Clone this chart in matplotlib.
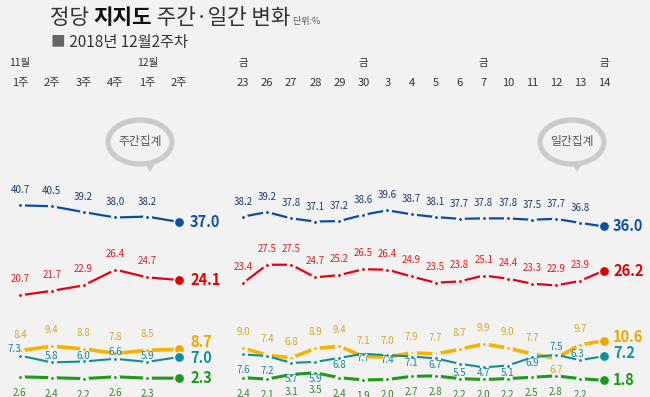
import numpy as np
import matplotlib
matplotlib.use("Agg")
import matplotlib.pyplot as plt
from matplotlib.patches import Ellipse, Polygon

plt.rcParams["font.family"] = ["Noto Sans CJK KR", "DejaVu Sans"]

# ----------------------------------------------------------------------
# --- Data ---
week_labels = ["1주", "2주", "3주", "4주", "1주", "2주"]
week_months = {0: "11월", 4: "12월"}
day_labels = ["23", "26", "27", "28", "29", "30", "3", "4", "5", "6",
              "7", "10", "11", "12", "13", "14"]
friday_idx = [0, 5, 10, 15]

week_minju = [40.7, 40.5, 39.2, 38.0, 38.2, 37.0]
week_hanguk = [20.7, 21.7, 22.9, 26.4, 24.7, 24.1]
week_jeongui = [8.4, 9.4, 8.8, 7.8, 8.5, 8.7]
week_bareun = [7.3, 5.8, 6.0, 6.6, 5.9, 7.0]
week_pyeonghwa = [2.6, 2.4, 2.2, 2.6, 2.3, 2.3]

day_minju = [38.2, 39.2, 37.8, 37.1, 37.2, 38.6, 39.6, 38.7, 38.1, 37.7,
             37.8, 37.8, 37.5, 37.7, 36.8, 36.0]
day_hanguk = [23.4, 27.5, 27.5, 24.7, 25.2, 26.5, 26.4, 24.9, 23.5, 23.8,
              25.1, 24.4, 23.3, 22.9, 23.9, 26.2]
day_jeongui = [9.0, 7.4, 6.8, 8.9, 9.4, 7.1, 7.0, 7.9, 7.7, 8.7,
               9.9, 9.0, 7.7, 6.7, 9.7, 10.6]
day_bareun = [7.6, 7.2, 5.7, 5.9, 6.8, 7.7, 7.4, 7.1, 6.7, 5.5,
              4.7, 5.1, 6.9, 7.5, 6.3, 7.2]
day_pyeonghwa = [2.4, 2.1, 3.1, 3.5, 2.4, 1.9, 2.0, 2.7, 2.8, 2.2,
                 2.0, 2.2, 2.5, 2.8, 2.2, 1.8]

# ----------------------------------------------------------------------
# --- Styles ---
BG = "#f2f2f2"
PT = 0.72  # pixels -> points

# (line colour, label colour, end colour, line width)
STYLES = {
    "minju": ("#0c4da2", "#163b73", "#0d4fa5", 1.6),
    "hanguk": ("#e60012", "#e01e1e", "#e00000", 1.6),
    "jeongui": ("#f6b400", "#d9a52a", "#f0a500", 2.6),
    "bareun": ("#0f8f8f", "#1584a8", "#0c8fa3", 1.5),
    "pyeonghwa": ("#1f9a1a", "#2d8c2d", "#1a9a1a", 2.2),
}
# end label lift in px: (weekly, daily)
END_LIFT = {"minju": (0, 0), "hanguk": (0, 0), "jeongui": (7, 4),
            "bareun": (-1, 3), "pyeonghwa": (0, 0)}

# vertical label offsets in pixels (positive = above the point)
week_dy = {
    "minju": [15] * 6,
    "hanguk": [16] * 6,
    "jeongui": [16] * 6,
    "bareun": [7, 6, 5, 7, 6, 0],
    "pyeonghwa": [-16] * 6,
}
week_dx = {"bareun": [-6, 0, 0, 0, 0, 0]}
day_dy = {
    "minju": [15] * 16,
    "hanguk": [16] * 16,
    "jeongui": [16] * 13 + [-12, 16, 0],
    "bareun": [-16, -15, -16, -17, -7, -4, -5, -6, -7, -9, -6, -7, -6, 8, 6, 0],
    "pyeonghwa": [-16, -16, -17, -17] + [-16] * 12,
}
day_dx = {"bareun": [0] * 14 + [-3, 0]}


def draw_series(ax, values, key, dys, dxs, end_dx, lift):
    line_c, text_c, end_c, lw = STYLES[key]
    x = np.arange(len(values))
    ax.plot(x, values, color=line_c, lw=lw, marker="o", ms=4.3, mew=2.2,
            mfc=line_c, mec=BG, solid_capstyle="butt", zorder=3)
    ax.plot(x[-1], values[-1], marker="o", ms=7.5, mfc=end_c, mec=BG,
            mew=1.2, zorder=4)
    for i, v in enumerate(values[:-1]):
        ax.annotate(f"{v:.1f}", (i, v), xytext=(dxs[i] * PT, dys[i] * PT),
                    textcoords="offset points", ha="center", va="center",
                    fontsize=7, color=text_c, zorder=5)
    ax.annotate(f"{values[-1]:.1f}", (x[-1], values[-1]),
                xytext=(end_dx * PT, lift * PT), textcoords="offset points",
                ha="left", va="center", fontsize=10.5, fontweight="bold",
                color=end_c, zorder=5)


def setup_axes(ax, labels):
    ax.set_xlim(-0.5, len(labels) - 0.5)
    ax.set_ylim(-1.89, 65.22)
    ax.set_xticks(range(len(labels)))
    ax.set_xticklabels(labels)
    ax.xaxis.tick_top()
    ax.tick_params(axis="x", length=0, pad=5, labelsize=8, labelcolor="#333333")
    ax.set_yticks([])
    for s in ax.spines.values():
        s.set_visible(False)
    ax.patch.set_alpha(0)


fig = plt.figure(figsize=(6.5, 3.97), dpi=100, facecolor=BG)

# --- decoration layer (title, bubbles) in pixel coordinates ---
deco = fig.add_axes([0, 0, 1, 1], zorder=0)
deco.set_xlim(0, 650)
deco.set_ylim(397, 0)
deco.axis("off")

t1 = deco.text(50, 18, "정당 ", fontsize=15.3, color="#333333", ha="left", va="center")
t2 = deco.annotate("지지도", xy=(1, 0.5), xycoords=t1, fontsize=15.3,
                   fontweight="bold", color="#111111", ha="left", va="center")
t3 = deco.annotate(" 주간·일간 변화", xy=(1, 0.5), xycoords=t2, fontsize=15.3,
                   color="#333333", ha="left", va="center")
deco.annotate(" 단위:%", xy=(1, 0.35), xycoords=t3, fontsize=6.5,
              color="#555555", ha="left", va="center")
s1 = deco.text(51, 42, "■", fontsize=10.5, color="#666666", ha="left", va="center")
deco.annotate(" 2018년 12월2주차", xy=(1, 0.5), xycoords=s1, fontsize=11,
              color="#333333", ha="left", va="center")

for cx, tip, text in [(140, 150, "주간집계"), (572, 577, "일간집계")]:
    deco.add_patch(Polygon([(tip - 7, 160), (tip + 7, 160), (tip, 172)],
                           closed=True, facecolor="#cbcbcb", edgecolor="none"))
    deco.add_patch(Ellipse((cx, 142), 64, 44, facecolor=BG,
                           edgecolor="#cbcbcb", lw=3.8))
    deco.text(cx, 142, text, fontsize=8.5, color="#555555",
              ha="center", va="center")

# --- weekly panel ---
ax_w = fig.add_axes([4 / 650, 0, 191 / 650, 302 / 397], zorder=1)
setup_axes(ax_w, week_labels)
for i, m in week_months.items():
    ax_w.text(i, 1.106, m, transform=ax_w.get_xaxis_transform(), fontsize=7.5,
              color="#333333", ha="center", va="center")

week_series = {"pyeonghwa": week_pyeonghwa, "jeongui": week_jeongui,
               "bareun": week_bareun, "hanguk": week_hanguk, "minju": week_minju}
for key, vals in week_series.items():
    draw_series(ax_w, vals, key, week_dy[key],
                week_dx.get(key, [0] * len(vals)), 11, END_LIFT[key][0])

# --- daily panel ---
ax_d = fig.add_axes([231 / 650, 0, 385.1 / 650, 302 / 397], zorder=1)
setup_axes(ax_d, day_labels)
for i in friday_idx:
    ax_d.text(i, 1.106, "금", transform=ax_d.get_xaxis_transform(),
              fontsize=7.5, color="#333333", ha="center", va="center")

day_series = {"pyeonghwa": day_pyeonghwa, "jeongui": day_jeongui,
              "bareun": day_bareun, "hanguk": day_hanguk, "minju": day_minju}
for key, vals in day_series.items():
    draw_series(ax_d, vals, key, day_dy[key],
                day_dx.get(key, [0] * len(vals)), 9, END_LIFT[key][1])

fig.savefig("out.png", dpi=100, facecolor=BG)
